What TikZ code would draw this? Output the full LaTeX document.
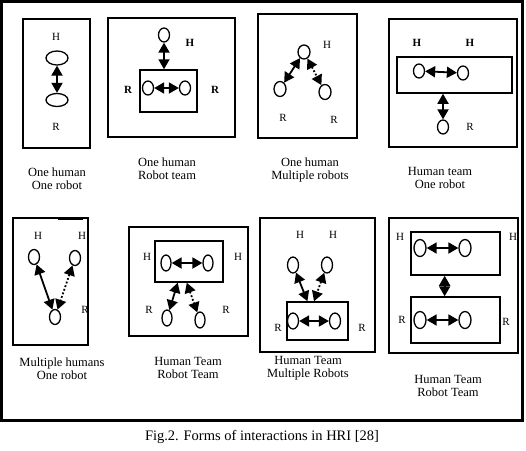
\documentclass[tikz,border=0pt]{standalone}
\usepackage{fontspec}
\setmainfont{Liberation Serif}
\usetikzlibrary{positioning,shapes.geometric,arrows.meta}
\tikzset{
  panelbox/.style={draw,line width=1.6pt,inner sep=0pt},
  teambox/.style={draw,line width=1.5pt,inner sep=0pt},
  agent/.style={draw,ellipse,line width=1.3pt,inner sep=0pt,
    minimum width=11pt,minimum height=15pt},
  lbl/.style={font=\fontsize{11}{12}\selectfont,inner sep=0pt},
  lblB/.style={font=\fontsize{11}{12}\selectfont\bfseries,inner sep=0pt},
  capt/.style={font=\fontsize{12.5}{13}\selectfont,align=center,inner sep=0pt},
  linkS/.style={line width=1.8pt,
    {Triangle[length=10pt,width=11pt]}-{Triangle[length=10pt,width=11pt]}},
  linkD/.style={linkS,dotted},
}

\begin{document}
\begin{tikzpicture}[x=1pt,y=-1pt]
  \useasboundingbox (0,0) rectangle (526,450);
  \draw[line width=3pt] (1.5,1.5) rectangle (522.5,420);

  \node[panelbox,minimum width=67pt,minimum height=129pt] (pb1) at (56.5,83.5) {};
  \node[lbl] (lh1) at (56,37) {H};
  \node[agent,minimum width=22pt,minimum height=14pt] (h1) at (57,58) {};
  \node[agent,minimum width=22pt,minimum height=13pt] (r1) at (57,100) {};
  \node[lbl] (lr1) at (56,127) {R};
  \draw[linkS] (h1) -- (r1);
  \node[capt] (c1) at (57,179) {One human\\One robot};

  \node[panelbox,minimum width=127pt,minimum height=119pt] (pb2) at (171.5,77.5) {};
  \node[agent,minimum height=14pt] (h2) at (164,35) {};
  \node[lblB] (lh2) at (190,43) {H};
  \node[teambox,minimum width=57pt,minimum height=42pt] (tb2) at (168.5,91) {};
  \node[agent,minimum height=14pt] (r2a) at (148,88) {};
  \node[agent,minimum height=14pt] (r2b) at (185,88) {};
  \node[lblB] (lr2a) at (128,90) {R};
  \node[lblB] (lr2b) at (215,90) {R};
  \draw[linkS] (h2.south) -- (h2.south |- tb2.north);
  \draw[linkS] (r2a) -- (r2b);
  \node[capt] (c2) at (167,169) {One human\\Robot team};

  \node[panelbox,minimum width=99pt,minimum height=124pt] (pb3) at (307.5,76) {};
  \node[agent,minimum width=12pt,minimum height=14pt] (h3) at (304,52) {};
  \node[lbl] (lh3) at (327,45) {H};
  \node[agent,minimum width=12pt] (r3a) at (280,89) {};
  \node[agent,minimum width=12pt] (r3b) at (325,92) {};
  \node[lbl] (lr3a) at (283,118) {R};
  \node[lbl] (lr3b) at (334,120) {R};
  \draw[linkS] (h3) -- (r3a);
  \draw[linkD] (h3) -- (r3b);
  \node[capt] (c3) at (310,170) {One human\\Multiple robots};

  \node[panelbox,minimum width=128pt,minimum height=128pt] (pb4) at (453,83) {};
  \node[lblB] (lh4a) at (417,43) {H};
  \node[lblB] (lh4b) at (470,43) {H};
  \node[teambox,minimum width=115pt,minimum height=36pt] (tb4) at (454.5,75) {};
  \node[agent,minimum height=14pt] (h4a) at (419,71) {};
  \node[agent,minimum height=14pt] (h4b) at (463,73) {};
  \node[agent,minimum height=14pt] (r4) at (443,127) {};
  \node[lbl] (lr4) at (470,127) {R};
  \draw[linkS] (h4a) -- (h4b);
  \draw[linkS] (r4.north |- tb4.south) -- (r4.north);
  \node[capt] (c4) at (440,178) {Human team\\One robot};

  \node[panelbox,minimum width=75pt,minimum height=127pt] (pb5) at (50.5,281.5) {};
  \draw[line width=3pt] (58,218) -- (83,218);
  \node[lbl] (lh5a) at (38,236) {H};
  \node[lbl] (lh5b) at (82,236) {H};
  \node[agent] (h5a) at (34,257) {};
  \node[agent] (h5b) at (75,258) {};
  \node[agent] (r5) at (55,317) {};
  \node[lbl] (lr5) at (85,310) {R};
  \draw[linkS] (h5a) -- (r5);
  \draw[linkD] (h5b) -- (r5);
  \node[capt] (c5) at (62,369) {Multiple humans\\One robot};

  \node[panelbox,minimum width=119pt,minimum height=109pt] (pb6) at (188.5,281.5) {};
  \node[teambox,minimum width=68pt,minimum height=41pt] (tb6) at (189,261.5) {};
  \node[agent,minimum width=10pt,minimum height=16pt] (h6a) at (166,263) {};
  \node[agent,minimum width=10pt,minimum height=16pt] (h6b) at (208,263) {};
  \node[lbl] (lh6a) at (147,257) {H};
  \node[lbl] (lh6b) at (238,257) {H};
  \node[agent,minimum width=10pt,minimum height=16pt] (r6a) at (167,318) {};
  \node[agent,minimum width=10pt,minimum height=16pt] (r6b) at (200,320) {};
  \node[lbl] (lr6a) at (149,310) {R};
  \node[lbl] (lr6b) at (226,310) {R};
  \draw[linkS] (h6a) -- (h6b);
  \draw[linkS] (tb6.242) -- (r6a);
  \draw[linkD] (tb6.264) -- (r6b);
  \node[capt] (c6) at (188,368) {Human Team\\Robot Team};

  \node[panelbox,minimum width=115pt,minimum height=134pt] (pb7) at (317.5,285) {};
  \node[lbl] (lh7a) at (300,235) {H};
  \node[lbl] (lh7b) at (333,235) {H};
  \node[agent,minimum height=16pt] (h7a) at (293,265) {};
  \node[agent,minimum height=16pt] (h7b) at (327,265) {};
  \node[teambox,minimum width=61pt,minimum height=38pt] (tb7) at (317.5,321) {};
  \node[agent,minimum height=16pt] (r7a) at (293,321) {};
  \node[agent,minimum height=16pt] (r7b) at (335,321) {};
  \node[lbl] (lr7a) at (278,328) {R};
  \node[lbl] (lr7b) at (362,328) {R};
  \draw[linkS] (h7a) -- (tb7.117);
  \draw[linkD] (h7b) -- (tb7.100);
  \draw[linkS] (r7a) -- (r7b);
  \node[capt] (c7) at (308,368) {Human Team\\Multiple Robots};

  \node[panelbox,minimum width=129pt,minimum height=135pt] (pb8) at (453.5,285.5) {};
  \node[teambox,minimum width=89pt,minimum height=43pt] (tb8a) at (455.5,253.5) {};
  \node[teambox,minimum width=89pt,minimum height=46pt] (tb8b) at (455.5,320) {};
  \node[agent,minimum width=12pt,minimum height=17pt] (h8a) at (420,248) {};
  \node[agent,minimum width=12pt,minimum height=17pt] (h8b) at (465,248) {};
  \node[agent,minimum width=12pt,minimum height=17pt] (r8a) at (420,320) {};
  \node[agent,minimum width=12pt,minimum height=17pt] (r8b) at (465,320) {};
  \node[lbl] (lh8a) at (400,237) {H};
  \node[lbl] (lh8b) at (513,237) {H};
  \node[lbl] (lr8a) at (402,320) {R};
  \node[lbl] (lr8b) at (506,322) {R};
  \draw[linkS] (h8a) -- (h8b);
  \draw[linkS] (r8a) -- (r8b);
  \draw[linkS] (tb8a.244) -- (tb8a.244 |- tb8b.north);
  \node[capt] (c8) at (448,386) {Human Team\\Robot Team};

  \node[font=\fontsize{14.5}{16}\selectfont,inner sep=0pt] (fig) at (262,437)
    {Fig.2. Forms of interactions in HRI [28]};
\end{tikzpicture}
\end{document}
